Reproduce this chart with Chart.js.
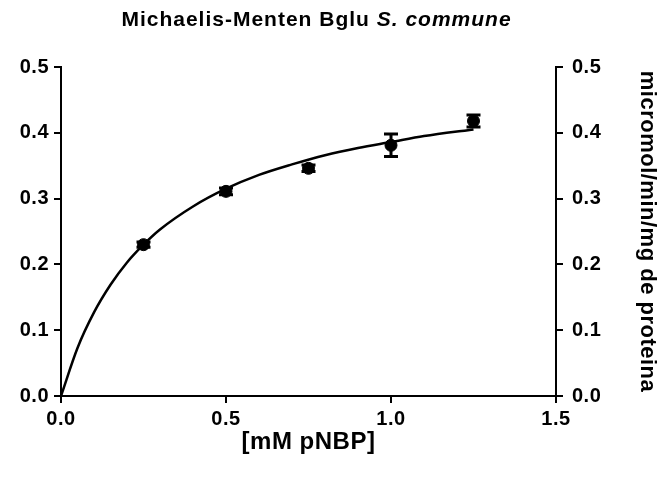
<!DOCTYPE html>
<html>
<head>
    <title>Michaelis-Menten Bglu</title>
    <script src="https://cdn.jsdelivr.net/npm/chart.js"></script>
    <style>
        body { margin: 0; background: #fff; }
        #wrap { width: 660px; height: 477px; }
    </style>
</head>
<body>
<div id="wrap"><canvas id="myChart" width="660" height="477"></canvas></div>
<script>
    // measured points
    var substrate = [0.25, 0.5, 0.75, 1.0, 1.25];
    var velocity = [0.230, 0.311, 0.346, 0.381, 0.418];
    var velocityErr = [0.004, 0.005, 0.005, 0.017, 0.009];

    // fitted curve
    var curveX = [0, 0.05, 0.1, 0.15, 0.2, 0.25, 0.3, 0.4, 0.5, 0.6, 0.7, 0.8, 0.9, 1.0, 1.1, 1.2, 1.25];
    var curveY = [0, 0.073, 0.127, 0.169, 0.203, 0.230, 0.253, 0.288, 0.315, 0.336, 0.352, 0.366, 0.377, 0.386, 0.395, 0.402, 0.405];

    var xTicks = [0, 0.5, 1.0, 1.5];
    var yTicks = [0, 0.1, 0.2, 0.3, 0.4, 0.5];

    var FONT = 'Arial, "Liberation Sans", sans-serif';

    function toXY(xs, ys) {
        return xs.map(function (x, i) { return { x: x, y: ys[i] }; });
    }

    // the reference text is set a little wide
    var spacing = {
        id: 'spacing',
        beforeLayout: function (chart) { chart.ctx.letterSpacing = '0.5px'; },
        beforeDraw: function (chart) { chart.ctx.letterSpacing = '0.5px'; }
    };

    var errorBars = {
        id: 'errorBars',
        beforeDatasetsDraw: function (chart) {
            var ctx = chart.ctx;
            var xs = chart.scales.x, ys = chart.scales.y;
            ctx.save();
            ctx.strokeStyle = '#000';
            ctx.lineWidth = 3;
            substrate.forEach(function (x, i) {
                var px = xs.getPixelForValue(x);
                var top = ys.getPixelForValue(velocity[i] + velocityErr[i]);
                var bot = ys.getPixelForValue(velocity[i] - velocityErr[i]);
                ctx.beginPath();
                ctx.moveTo(px, top); ctx.lineTo(px, bot);
                ctx.moveTo(px - 7, top); ctx.lineTo(px + 7, top);
                ctx.moveTo(px - 7, bot); ctx.lineTo(px + 7, bot);
                ctx.stroke();
            });
            ctx.restore();
        }
    };

    var titlePlugin = {
        id: 'mixedTitle',
        afterDraw: function (chart) {
            var ctx = chart.ctx;
            var a = 'Michaelis-Menten Bglu ';
            var b = 'S. commune';
            ctx.save();
            ctx.letterSpacing = '1px';
            ctx.fillStyle = '#000';
            ctx.textBaseline = 'middle';
            ctx.font = 'bold 21px ' + FONT;
            var wa = ctx.measureText(a).width;
            ctx.font = 'italic bold 21px ' + FONT;
            var wb = ctx.measureText(b).width;
            var cx = (chart.chartArea.left + chart.chartArea.right) / 2 + 8;
            var x0 = cx - (wa + wb) / 2;
            ctx.textAlign = 'left';
            ctx.font = 'bold 21px ' + FONT;
            ctx.fillText(a, x0, 20);
            ctx.font = 'italic bold 21px ' + FONT;
            ctx.fillText(b, x0 + wa, 20);
            ctx.restore();
        }
    };

    function axisStyle(extra) {
        var base = {
            grid: { drawOnChartArea: false, drawTicks: true, tickLength: 7, color: '#000', lineWidth: 2 },
            border: { display: true, color: '#000', width: 2 }
        };
        return Object.assign(base, extra);
    }

    var tickFont = { family: FONT, size: 20, weight: 'bold' };

    var ctx = document.getElementById('myChart').getContext('2d');
    var chart = new Chart(ctx, {
        type: 'scatter',
        data: {
            datasets: [{
                label: 'fit',
                data: toXY(curveX, curveY),
                showLine: true,
                borderColor: '#000',
                borderWidth: 2.5,
                pointRadius: 0,
                cubicInterpolationMode: 'monotone',
                order: 2
            }, {
                label: 'data',
                data: toXY(substrate, velocity),
                backgroundColor: '#000',
                borderColor: '#000',
                pointRadius: 6,
                order: 1
            }]
        },
        options: {
            responsive: false,
            animation: false,
            layout: { padding: { top: 67, left: 0, right: 0, bottom: 0 } },
            plugins: { legend: { display: false }, tooltip: { enabled: false }, title: { display: false } },
            scales: {
                x: axisStyle({
                    type: 'linear', min: 0, max: 1.5,
                    afterBuildTicks: function (s) { s.ticks = xTicks.map(function (v) { return { value: v }; }); },
                    ticks: { color: '#000', padding: 4, maxRotation: 0, font: tickFont,
                        callback: function (v) { return v.toFixed(1); } },
                    title: { display: true, text: '[mM pNBP]', color: '#000', padding: { top: 0, bottom: 20 },
                        font: { family: FONT, size: 24, weight: 'bold' } },
                    afterFit: function (s) { s.height = 81; }
                }),
                y: axisStyle({
                    type: 'linear', position: 'left', min: 0, max: 0.5,
                    afterBuildTicks: function (s) { s.ticks = yTicks.map(function (v) { return { value: v }; }); },
                    ticks: { color: '#000', padding: 5, font: tickFont,
                        callback: function (v) { return v.toFixed(1); } },
                    afterFit: function (s) { s.width = 61; }
                }),
                y2: axisStyle({
                    type: 'linear', position: 'right', min: 0, max: 0.5,
                    afterBuildTicks: function (s) { s.ticks = yTicks.map(function (v) { return { value: v }; }); },
                    ticks: { color: '#000', padding: 9, font: tickFont,
                        callback: function (v) { return v.toFixed(1); } },
                    title: { display: true, text: 'micromol/min/mg de proteina', color: '#000', padding: { top: 0, bottom: 2 },
                        font: { family: FONT, size: 22, weight: 'bold' } },
                    afterFit: function (s) { s.width = 104; }
                })
            }
        },
        plugins: [spacing, errorBars, titlePlugin]
    });
</script>
</body>
</html>
